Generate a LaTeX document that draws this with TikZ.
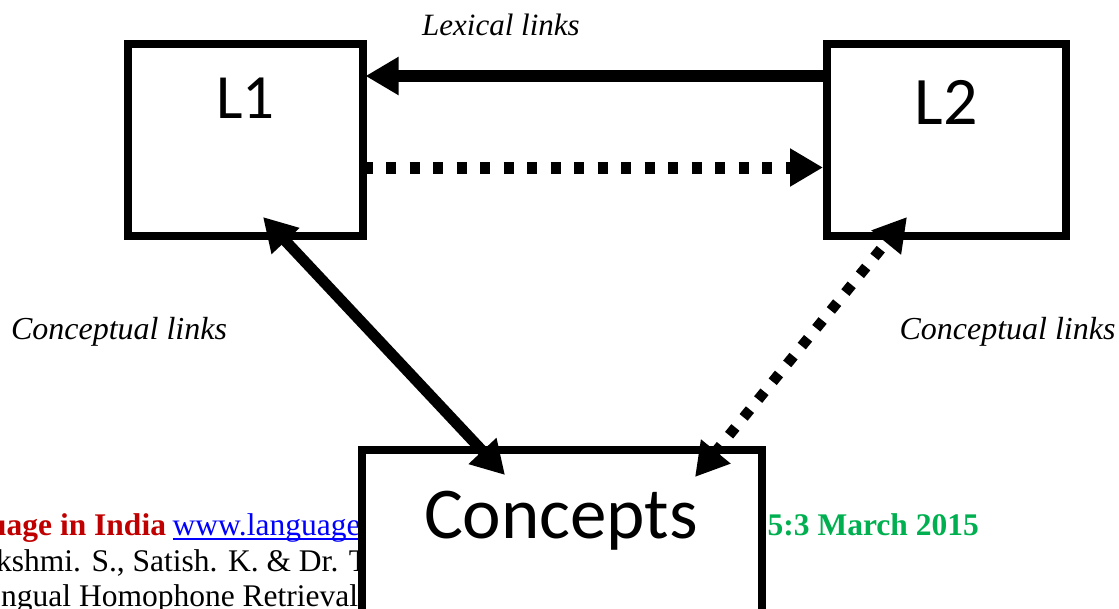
\documentclass[tikz,border=0pt]{standalone}
\usepackage{fontspec}
\setmainfont{Liberation Serif}
\newfontfamily\calibrifont{Carlito}
\usetikzlibrary{arrows.meta,calc}
\definecolor{lilred}{RGB}{192,0,0}
\definecolor{lilgreen}{RGB}{0,176,80}
\definecolor{lilblue}{RGB}{0,0,255}
\begin{document}
\begin{tikzpicture}[x=1pt,y=-1pt,
 box/.style={draw,line width=8pt,rectangle,inner sep=0pt,outer sep=0pt,fill=white},
 boxlabel/.style={font=\calibrifont\fontsize{#1}{#1}\selectfont,inner sep=0pt,anchor=base},
 linklabel/.style={font=\itshape\fontsize{#1}{36}\selectfont,inner sep=0pt,anchor=base},
 footer/.style={font=\fontsize{31.5}{36}\selectfont,inner sep=0pt,anchor=base west},
 footerbold/.style={font=\bfseries\fontsize{31.5}{36}\selectfont,inner sep=0pt,anchor=base west},
 head/.style={-{Triangle[length=33pt,width=36pt]}},
 bihead/.style={{Triangle[length=33pt,width=36pt]}-{Triangle[length=33pt,width=36pt]}},
 solidlink/.style={line width=12pt},
 dotlink/.style={line width=12pt,dash pattern=on 10pt off 13.5pt},
 diagsolid/.style={line width=11pt},
 diagdot/.style={line width=10.5pt,dash pattern=on 10pt off 13pt},
]
\useasboundingbox (0,0) rectangle (1119,608);
\clip (0,0) rectangle (1119,608);
\fill[white] (0,0) rectangle (1119,608);

% footer text (partly hidden behind the Concepts box)
\node[footerbold,text=lilred] (f1) at (-11,535) {uage in India};
\node[footer,text=lilblue] (f2) at (172.5,535) {www.language};
\draw[lilblue,line width=2pt] ($(f2.base west)+(0,4)$) -- ($(f2.base east)+(0,4)$);
\node[footerbold,text=lilgreen] (f3) at (767.5,535) {5:3 March 2015};
\node[footer] (f4) at (-4,571) {kshmi. S., Satish. K. \& Dr. T};
\node[footer] (f5) at (1,606) {ngual Homophone Retrieval};

% boxes
\node[box,minimum width=235pt,minimum height=192pt] (l1) at (245,140) {};
\node[box,minimum width=239pt,minimum height=192pt] (l2) at (946.5,140) {};
\node[box,minimum width=400pt,minimum height=220pt] (con) at (562,560) {};

\node[boxlabel=63] (l1t) at (245.5,118.3) {L1};
\node[boxlabel=68] (l2t) at (946.5,124) {L2};
\node[boxlabel=73] (cont) at (561,538) {Concepts};

% labels
\node[linklabel=31] (lex) at (501,35.7) {Lexical links};
\node[linklabel=32] (cl) at (119,339) {Conceptual links};
\node[linklabel=32] (cr) at (1007.5,339) {Conceptual links};

% connectors
\draw[solidlink,head] ($(l2.west)+(0,-64)$) -- ($(l1.east)+(3,-64)$);
\draw[dotlink,head] ($(l1.east)+(0,27.5)$) -- ($(l2.west)+(-4,27.5)$);
\draw[diagsolid,bihead] ($(l1.south)+(18,-19)$) -- ($(con.north)+(-57,25)$);
\draw[diagdot,bihead] ($(con.north)+(133,27)$) -- ($(l2.south)+(-39.5,-19)$);
\end{tikzpicture}
\end{document}
